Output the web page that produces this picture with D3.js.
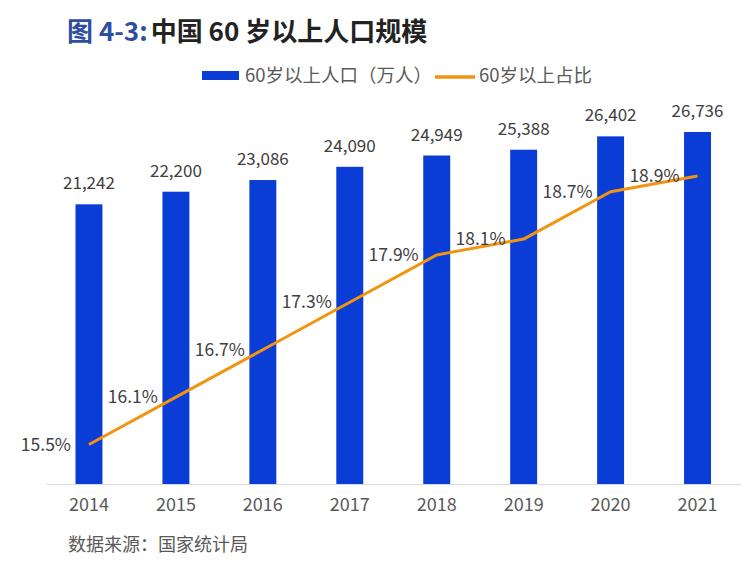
<!DOCTYPE html>
<html>
<head>
<meta charset="utf-8">
<script src="https://cdn.jsdelivr.net/npm/d3@7"></script>
<style>
html,body{margin:0;padding:0;background:#fff;}
svg text{font-family:"Noto Sans CJK SC","Noto Sans",sans-serif;}
</style>
</head>
<body>
<svg id="chart" width="741" height="573"></svg>
<script>
const years = ["2014","2015","2016","2017","2018","2019","2020","2021"];
const population = [21242, 22200, 23086, 24090, 24949, 25388, 26402, 26736];
const share = [15.5, 16.1, 16.7, 17.3, 17.9, 18.1, 18.7, 18.9];
const titlePrefix = "图 4-3:";
const titleMain = "中国 60 岁以上人口规模";
const legendBar = "60岁以上人口（万人）";
const legendLine = "60岁以上占比";
const sourceText = "数据来源：国家统计局";

const svg = d3.select("#chart");
const barColor = "#0A3DD6";
const lineColor = "#F29410";

const x = d3.scaleBand().domain(years).range([45.5, 741]).paddingInner(0.69).paddingOuter(0.345);
const y = d3.scaleLinear().domain([0, 30000]).range([484, 89]);
const y2 = d3.scaleLinear().domain([15, 20]).range([484, 89]);

// title
const title = svg.append("text").attr("x", 67).attr("y", 41)
  .attr("font-size", 26).attr("font-weight", "bold");
title.append("tspan").attr("fill", "#2D4E9E").text(titlePrefix);
title.append("tspan").attr("fill", "#222").attr("dx", 3).text(titleMain);

// legend
const lg = svg.append("g");
lg.append("rect").attr("x", 202).attr("y", 71).attr("width", 37).attr("height", 9).attr("fill", barColor);
lg.append("text").attr("x", 245).attr("y", 82).attr("font-size", 18.5).attr("fill", "#595959").text(legendBar);
lg.append("line").attr("x1", 435).attr("x2", 475).attr("y1", 77).attr("y2", 77)
  .attr("stroke", lineColor).attr("stroke-width", 3.5);
lg.append("text").attr("x", 479).attr("y", 82).attr("font-size", 18.5).attr("fill", "#595959").text(legendLine);

// axis baseline
svg.append("line").attr("x1", 47).attr("x2", 741).attr("y1", 484.5).attr("y2", 484.5)
  .attr("stroke", "#d9d9d9").attr("stroke-width", 1);

// bars
svg.selectAll("rect.bar").data(years).join("rect").attr("class", "bar")
  .attr("x", d => x(d)).attr("width", x.bandwidth())
  .attr("y", (d, i) => y(population[i])).attr("height", (d, i) => y(0) - y(population[i]))
  .attr("fill", barColor);

// bar labels
svg.selectAll("text.blab").data(years).join("text").attr("class", "blab")
  .attr("x", d => x(d) + x.bandwidth() / 2).attr("y", (d, i) => y(population[i]) - 15)
  .attr("text-anchor", "middle").attr("font-size", 17).attr("fill", "#404040")
  .text((d, i) => d3.format(",")(population[i]));

// line
const line = d3.line().x((d, i) => x(years[i]) + x.bandwidth() / 2).y(d => y2(d));
svg.append("path").datum(share).attr("d", line).attr("fill", "none")
  .attr("stroke", lineColor).attr("stroke-width", 3).attr("stroke-linejoin", "round");

// line labels
svg.selectAll("text.llab").data(share).join("text").attr("class", "llab")
  .attr("x", (d, i) => x(years[i]) + x.bandwidth() / 2 - 18).attr("y", d => y2(d) + 6)
  .attr("text-anchor", "end").attr("font-size", 17.5).attr("fill", "#404040")
  .text(d => d.toFixed(1) + "%");

// x axis labels
const xAxis = d3.axisBottom(x).tickSize(0).tickPadding(14);
const gx = svg.append("g").attr("transform", "translate(0,484)").call(xAxis);
gx.select(".domain").remove();
gx.selectAll("text").attr("font-size", 18).attr("fill", "#595959")
  .attr("font-family", "'Noto Sans CJK SC','Noto Sans',sans-serif");

// source
svg.append("text").attr("x", 68).attr("y", 551).attr("font-size", 18).attr("fill", "#595959").text(sourceText);
</script>
</body>
</html>
